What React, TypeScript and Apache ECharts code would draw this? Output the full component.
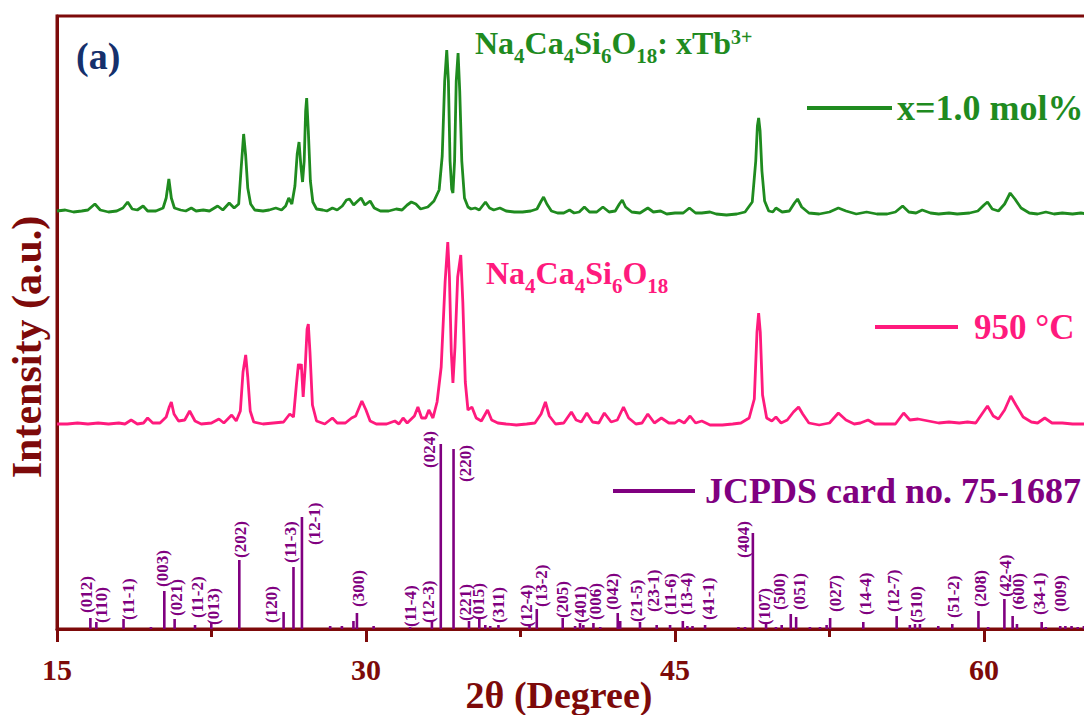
import React, { useEffect, useRef } from 'react';
import * as echarts from 'echarts';

const SERIF = '"Liberation Serif", "Times New Roman", serif';
const MAROON = '#7d0a0a';
const GREEN = '#1f8b1f';
const PINK = '#ff1a7d';
const PURPLE = '#800080';
const NAVY = '#15306c';

// ---- axis ticks ----
const xTicks = [15, 30, 45, 60];
const xMinorTicks = [22.5, 37.5, 52.5];

// ---- Na4Ca4Si6O18: 1.0 mol% Tb3+  [2θ, intensity a.u.] ----
const tbDoped: [number, number][] = [
  [15.0, 5], [15.4, 6], [15.8, 4], [16.2, 5], [16.5, 6], [16.84, 12], [17.1, 6], [17.5, 4], [17.9, 5], [18.2, 8],
  [18.43, 14], [18.65, 7], [18.9, 6], [19.18, 10], [19.4, 5], [19.8, 5], [20.15, 8], [20.3, 18], [20.43, 37], [20.55, 18],
  [20.7, 8], [21.0, 6], [21.25, 5], [21.52, 8], [21.75, 5], [22.1, 6], [22.4, 5], [22.8, 10], [23.05, 6], [23.36, 13],
  [23.6, 8], [23.82, 12], [23.93, 45], [24.06, 82], [24.16, 60], [24.26, 28], [24.4, 12], [24.6, 6], [25.0, 5], [25.3, 6],
  [25.62, 8], [25.9, 6], [26.1, 10], [26.25, 18], [26.4, 12], [26.55, 30], [26.66, 62], [26.75, 74], [26.84, 50], [26.92, 34],
  [27.0, 55], [27.07, 105], [27.12, 118], [27.2, 85], [27.3, 35], [27.42, 14], [27.6, 7], [27.9, 6], [28.1, 5], [28.37, 8],
  [28.6, 6], [28.85, 10], [29.05, 16], [29.2, 17], [29.4, 11], [29.6, 15], [29.76, 18], [29.95, 11], [30.2, 15], [30.4, 8],
  [30.7, 5], [31.1, 5], [31.47, 7], [31.75, 6], [32.0, 11], [32.2, 14], [32.42, 12], [32.65, 7], [33.0, 9], [33.3, 15],
  [33.55, 26], [33.7, 60], [33.82, 135], [33.92, 166], [34.0, 135], [34.08, 55], [34.16, 27], [34.22, 23], [34.3, 55], [34.38, 135],
  [34.47, 163], [34.55, 125], [34.65, 55], [34.78, 18], [34.95, 9], [35.1, 7], [35.3, 8], [35.5, 6], [35.8, 14], [36.0, 8],
  [36.2, 6], [36.5, 8], [36.8, 5], [37.2, 4], [37.6, 4], [38.0, 5], [38.3, 7], [38.48, 14], [38.62, 19], [38.78, 12],
  [39.0, 5], [39.3, 3], [39.6, 3], [39.88, 6], [40.1, 3], [40.35, 4], [40.6, 9], [40.85, 4], [41.2, 4], [41.5, 9],
  [41.8, 4], [42.1, 5], [42.3, 12], [42.44, 16], [42.6, 9], [42.9, 4], [43.3, 3], [43.68, 8], [43.95, 4], [44.3, 5],
  [44.6, 2], [45.0, 3], [45.4, 3], [45.7, 8], [46.0, 3], [46.3, 3], [46.7, 4], [47.0, 2], [47.5, 1], [48.0, 2],
  [48.4, 4], [48.75, 14], [48.92, 55], [49.0, 90], [49.06, 98], [49.13, 85], [49.22, 45], [49.35, 15], [49.55, 5], [49.75, 4],
  [49.9, 8], [50.2, 4], [50.55, 5], [50.8, 13], [50.95, 17], [51.15, 9], [51.5, 3], [52.0, 2], [52.5, 4], [52.93, 8],
  [53.3, 5], [53.8, 2], [54.3, 4], [54.8, 2], [55.3, 2], [55.7, 4], [56.05, 10], [56.35, 4], [56.7, 3], [57.0, 6],
  [57.4, 3], [57.8, 2], [58.3, 3], [58.7, 2], [59.3, 3], [59.7, 5], [60.0, 11], [60.17, 14], [60.4, 7], [60.7, 5],
  [61.0, 12], [61.27, 23], [61.5, 17], [61.8, 8], [62.2, 3], [62.6, 2], [63.0, 4], [63.4, 2], [63.8, 3], [64.3, 2],
  [64.7, 3], [65.0, 2],
];

// ---- Na4Ca4Si6O18 host, 950 °C  [2θ, intensity a.u.] ----
const host950: [number, number][] = [
  [15.0, 3], [15.5, 3], [16.0, 4], [16.5, 3], [17.0, 4], [17.5, 3], [18.0, 4], [18.3, 3], [18.6, 7], [18.9, 3],
  [19.2, 4], [19.4, 9], [19.65, 4], [20.0, 4], [20.3, 10], [20.45, 20], [20.55, 25], [20.68, 13], [20.9, 6], [21.2, 7],
  [21.44, 16], [21.7, 6], [22.0, 3], [22.5, 4], [22.86, 8], [23.1, 4], [23.48, 12], [23.7, 6], [23.9, 16], [24.03, 55],
  [24.16, 72], [24.26, 50], [24.38, 16], [24.55, 5], [25.0, 3], [25.5, 4], [26.0, 5], [26.3, 13], [26.48, 10], [26.62, 42],
  [26.72, 63], [26.79, 58], [26.86, 63], [26.95, 30], [27.05, 60], [27.14, 98], [27.2, 103], [27.28, 75], [27.4, 22], [27.6, 6],
  [28.0, 3], [28.37, 9], [28.6, 4], [29.0, 4], [29.3, 9], [29.5, 11], [29.8, 26], [30.0, 17], [30.2, 6], [30.5, 3],
  [31.0, 3], [31.4, 6], [31.6, 3], [31.8, 9], [32.0, 4], [32.35, 11], [32.52, 20], [32.7, 9], [32.9, 9], [33.05, 17],
  [33.25, 9], [33.45, 25], [33.65, 60], [33.84, 145], [33.97, 185], [34.05, 150], [34.14, 75], [34.22, 44], [34.32, 80], [34.45, 150],
  [34.6, 172], [34.7, 125], [34.82, 45], [34.95, 17], [35.14, 20], [35.35, 9], [35.6, 6], [35.9, 17], [36.1, 7], [36.4, 4],
  [36.8, 3], [37.3, 2], [37.8, 3], [38.2, 4], [38.5, 13], [38.71, 25], [38.9, 11], [39.2, 3], [39.6, 4], [39.97, 15],
  [40.2, 7], [40.45, 5], [40.72, 14], [41.0, 5], [41.3, 4], [41.57, 14], [41.9, 5], [42.2, 7], [42.5, 20], [42.75, 9],
  [43.1, 3], [43.4, 4], [43.68, 13], [44.0, 4], [44.34, 9], [44.7, 4], [45.0, 4], [45.19, 7], [45.45, 4], [45.73, 11],
  [46.0, 4], [46.3, 6], [46.7, 2], [47.3, 2], [47.8, 3], [48.2, 4], [48.6, 9], [48.85, 28], [48.98, 95], [49.06, 114],
  [49.14, 95], [49.25, 32], [49.45, 9], [49.7, 6], [49.9, 10], [50.15, 4], [50.45, 7], [50.75, 15], [51.0, 20], [51.2, 13],
  [51.5, 4], [52.0, 2], [52.5, 4], [52.93, 14], [53.3, 7], [53.7, 3], [54.0, 4], [54.37, 7], [54.7, 3], [55.2, 3],
  [55.7, 3], [56.1, 14], [56.4, 7], [56.8, 8], [57.3, 6], [57.8, 4], [58.3, 5], [58.8, 4], [59.2, 5], [59.6, 4],
  [59.9, 13], [60.17, 21], [60.45, 11], [60.7, 8], [61.0, 17], [61.3, 31], [61.55, 22], [61.9, 10], [62.3, 5], [62.6, 4],
  [62.95, 9], [63.3, 4], [63.8, 4], [64.3, 3], [65.0, 3],
];

// ---- JCPDS card no. 75-1687 reference lines ----
const jcpdsTheta = [
  16.62, 16.91, 18.23, 19.56, 20.21, 20.71, 21.70, 22.49, 23.85, 26.00,
  26.48, 26.89, 28.26, 28.83, 29.39, 29.56, 30.37, 32.14, 33.20, 33.63,
  34.25, 35.00, 35.50, 35.79, 36.03, 36.43, 37.94, 38.29, 39.55, 40.15,
  40.39, 40.55, 41.04, 41.37, 42.22, 42.34, 43.30, 44.11, 44.76, 45.38,
  45.60, 45.85, 46.46, 48.08, 48.40, 48.78, 49.42, 49.90, 50.18, 50.62,
  50.88, 51.55, 52.04, 52.36, 52.53, 54.14, 55.76, 56.40, 56.65, 56.89,
  57.78, 58.46, 59.73, 60.20, 60.99, 61.39, 61.60, 62.80, 63.00, 63.70,
  63.95, 64.25, 64.55, 64.85,
];
const jcpdsIntensity = [
  11, 7, 10, 2, 38, 10, 4, 6, 69, 17,
  62, 112, 3, 3, 8, 16, 3, 2, 8, 185,
  180, 8, 10, 4, 3, 4, 3, 20, 11, 3,
  6, 4, 6, 2, 16, 8, 7, 4, 4, 8,
  3, 3, 4, 2, 2, 96, 7, 2, 4, 15,
  12, 2, 2, 4, 11, 7, 13, 4, 5, 5,
  3, 5, 18, 2, 30, 13, 5, 7, 2, 3,
  3, 3, 2, 3,
];
const jcpdsHkl = [
  '(012)', '(110)', '(11-1)', '', '(003)', '(021)', '(11-2)', '(013)', '(202)', '(120)',
  '(11-3)', '(12-1)', '', '', '', '(300)', '', '(11-4)', '(12-3)', '(024)',
  '(220)', '(221)', '(015)', '', '', '(311)', '(12-4)', '(13-2)', '(205)', '',
  '(401)', '', '(006)', '', '(042)', '', '(21-5)', '(23-1)', '(11-6)', '(13-4)',
  '', '', '(41-1)', '', '', '(404)', '(107)', '', '(500)', '(051)',
  '', '', '', '', '(027)', '(14-4)', '(12-7)', '', '(510)', '',
  '', '(51-2)', '(208)', '', '(42-4)', '(600)', '', '(34-1)', '', '(009)',
  '', '', '', '',
];

// ---- layout: vertical offsets of stacked patterns & hkl label nudges [dx px, gap px] ----
const GREEN_OFFSET = 413;
const PINK_OFFSET = 202;
const labelNudge: Record<string, [number, number]> = {
  '(012)': [-4, 5], '(110)': [5, -1], '(11-1)': [5, -1], '(003)': [-2, 4], '(021)': [2, 3],
  '(11-2)': [2, 7], '(013)': [2, -2], '(202)': [1, 2], '(120)': [-12, -11], '(11-3)': [-3, 4],
  '(12-1)': [13, -28], '(300)': [2, 6], '(11-4)': [0, 0], '(12-3)': [-3, -2], '(024)': [-11, -24],
  '(220)': [12, -33], '(221)': [-4, 0], '(015)': [-1, -1], '(311)': [0, 2], '(12-4)': [-3, -1],
  '(13-2)': [5, 2], '(205)': [0, 0], '(401)': [0, 0], '(006)': [2, 3], '(042)': [-5, 3],
  '(21-5)': [-3, 0], '(23-1)': [-3, 13], '(11-6)': [0, 10], '(13-4)': [4, 6], '(41-1)': [3, 5],
  '(404)': [-9, -25], '(107)': [-2, -3], '(500)': [-2, 15], '(051)': [9, 4], '(027)': [5, 6],
  '(14-4)': [2, 7], '(12-7)': [-3, 4], '(510)': [2, 1], '(51-2)': [1, 6], '(208)': [2, 4],
  '(42-4)': [1, 2], '(600)': [6, 6], '(34-1)': [-2, 7], '(009)': [0, 14],
};

const formulaRich = (color: string) => ({
  m: { fontSize: 32, fontWeight: 'bold', fontFamily: SERIF, fill: color, color, lineHeight: 32, verticalAlign: 'top' },
  s: { fontSize: 21, fontWeight: 'bold', fontFamily: SERIF, fill: color, color, lineHeight: 40, verticalAlign: 'bottom' },
  p: { fontSize: 20, fontWeight: 'bold', fontFamily: SERIF, fill: color, color, lineHeight: 14, verticalAlign: 'top' },
});

const legendText = (color: string, size: number, padLeft: number) => ({
  color, fontSize: size, fontWeight: 'bold', fontFamily: SERIF, lineHeight: 40, padding: [0, 0, 0, padLeft],
});

export default function App() {
  const ref = useRef<HTMLDivElement>(null);
  useEffect(() => {
    const chart = echarts.init(ref.current!, undefined, { renderer: 'svg' });
    const option: any = {
      animation: false,
      backgroundColor: '#ffffff',
      textStyle: { fontFamily: SERIF },
      grid: {
        left: 57, top: 16, width: 1030, height: 613,
        show: true, borderColor: MAROON, borderWidth: 3, backgroundColor: 'transparent',
        outerBoundsMode: 'none', containLabel: false,
      },
      xAxis: [
        {
          type: 'value', min: 15, max: 65, position: 'bottom',
          axisLine: { show: true, lineStyle: { color: MAROON, width: 3 } },
          axisTick: { show: true, customValues: xTicks, length: 13, lineStyle: { color: MAROON, width: 3 } },
          axisLabel: {
            show: true, customValues: xTicks, margin: 25, color: MAROON,
            fontSize: 30, fontWeight: 'bold', fontFamily: SERIF,
          },
          splitLine: { show: false },
        },
        {
          type: 'value', min: 15, max: 65, position: 'bottom',
          axisLine: { show: false },
          axisTick: { show: true, customValues: xMinorTicks, length: 8, lineStyle: { color: MAROON, width: 3 } },
          axisLabel: { show: false },
          splitLine: { show: false },
        },
      ],
      yAxis: {
        type: 'value', min: 0, max: 613,
        axisLine: { show: true, lineStyle: { color: MAROON, width: 3 } },
        axisTick: { show: false }, axisLabel: { show: false }, splitLine: { show: false },
      },
      legend: [
        {
          data: ['x=1.0 mol%'], left: 807, top: 88, padding: 0, icon: 'rect', itemWidth: 85, itemHeight: 4,
          selectedMode: false, textStyle: legendText(GREEN, 36, 0),
        },
        {
          data: ['950 °C'], left: 875, top: 307, padding: 0, icon: 'rect', itemWidth: 83, itemHeight: 4,
          selectedMode: false, textStyle: legendText(PINK, 35, 11),
        },
        {
          data: ['JCPDS card no. 75-1687'], left: 613, top: 471, padding: 0, icon: 'rect', itemWidth: 82, itemHeight: 4,
          selectedMode: false, textStyle: legendText(PURPLE, 36, 5),
        },
      ],
      series: [
        {
          type: 'line', name: 'x=1.0 mol%', xAxisIndex: 0, yAxisIndex: 0,
          data: tbDoped.map(([t, v]) => [t, v + GREEN_OFFSET]),
          symbol: 'none', showSymbol: false,
          lineStyle: { color: GREEN, width: 2.8 }, itemStyle: { color: GREEN },
        },
        {
          type: 'line', name: '950 °C', xAxisIndex: 0, yAxisIndex: 0,
          data: host950.map(([t, v]) => [t, v + PINK_OFFSET]),
          symbol: 'none', showSymbol: false,
          lineStyle: { color: PINK, width: 2.8 }, itemStyle: { color: PINK },
        },
        {
          type: 'custom', name: 'JCPDS card no. 75-1687', xAxisIndex: 0, yAxisIndex: 0,
          itemStyle: { color: PURPLE },
          data: jcpdsTheta.map((t, i) => [t, jcpdsIntensity[i]]),
          renderItem: (params: any, api: any) => {
            const i = params.dataIndex;
            const x = api.value(0);
            const h = api.value(1);
            const base = api.coord([x, 0]);
            const top = api.coord([x, h]);
            const children: any[] = [
              {
                type: 'line',
                shape: { x1: base[0], y1: base[1], x2: top[0], y2: top[1] },
                style: { stroke: PURPLE, lineWidth: 2.6 },
              },
            ];
            const lab = jcpdsHkl[i];
            if (lab) {
              const [dx, gap] = labelNudge[lab] || [0, 3];
              children.push({
                type: 'text',
                x: top[0] + dx,
                y: top[1] - gap,
                rotation: Math.PI / 2,
                style: {
                  text: lab, fill: PURPLE, fontSize: 17, fontWeight: 'bold', fontFamily: SERIF,
                  align: 'left', verticalAlign: 'middle', textAlign: 'left', textVerticalAlign: 'middle',
                },
              });
            }
            return { type: 'group', children };
          },
        },
      ],
      graphic: [
        {
          type: 'text', x: 76, y: 56,
          style: {
            text: '(a)', fill: NAVY, fontSize: 38, fontWeight: 'bold', fontFamily: SERIF,
            align: 'left', verticalAlign: 'middle', textAlign: 'left', textVerticalAlign: 'middle',
          },
        },
        {
          type: 'text', x: 475, y: 26.5,
          style: {
            text: '{m|Na}{s|4}{m|Ca}{s|4}{m|Si}{s|6}{m|O}{s|18}{m|: xTb}{p|3+}',
            rich: formulaRich(GREEN), fontFamily: SERIF,
            align: 'left', verticalAlign: 'top', textAlign: 'left', textVerticalAlign: 'top',
          },
        },
        {
          type: 'text', x: 486, y: 256.5,
          style: {
            text: '{m|Na}{s|4}{m|Ca}{s|4}{m|Si}{s|6}{m|O}{s|18}',
            rich: formulaRich(PINK), fontFamily: SERIF,
            align: 'left', verticalAlign: 'top', textAlign: 'left', textVerticalAlign: 'top',
          },
        },
        {
          type: 'text', x: 27, y: 347, rotation: Math.PI / 2,
          style: {
            text: 'Intensity (a.u.)', fill: MAROON, fontSize: 42, fontWeight: 'bold', fontFamily: SERIF,
            align: 'center', verticalAlign: 'middle', textAlign: 'center', textVerticalAlign: 'middle',
          },
        },
        {
          type: 'text', x: 559, y: 695,
          style: {
            text: '2θ (Degree)', fill: MAROON, fontSize: 38, fontWeight: 'bold', fontFamily: SERIF,
            align: 'center', verticalAlign: 'middle', textAlign: 'center', textVerticalAlign: 'middle',
          },
        },
      ],
    };
    chart.setOption(option);
    return () => chart.dispose();
  }, []);
  return (
    <div
      ref={ref}
      style={{ position: 'absolute', left: 0, top: 0, width: 1084, height: 715, background: '#ffffff' }}
    />
  );
}
